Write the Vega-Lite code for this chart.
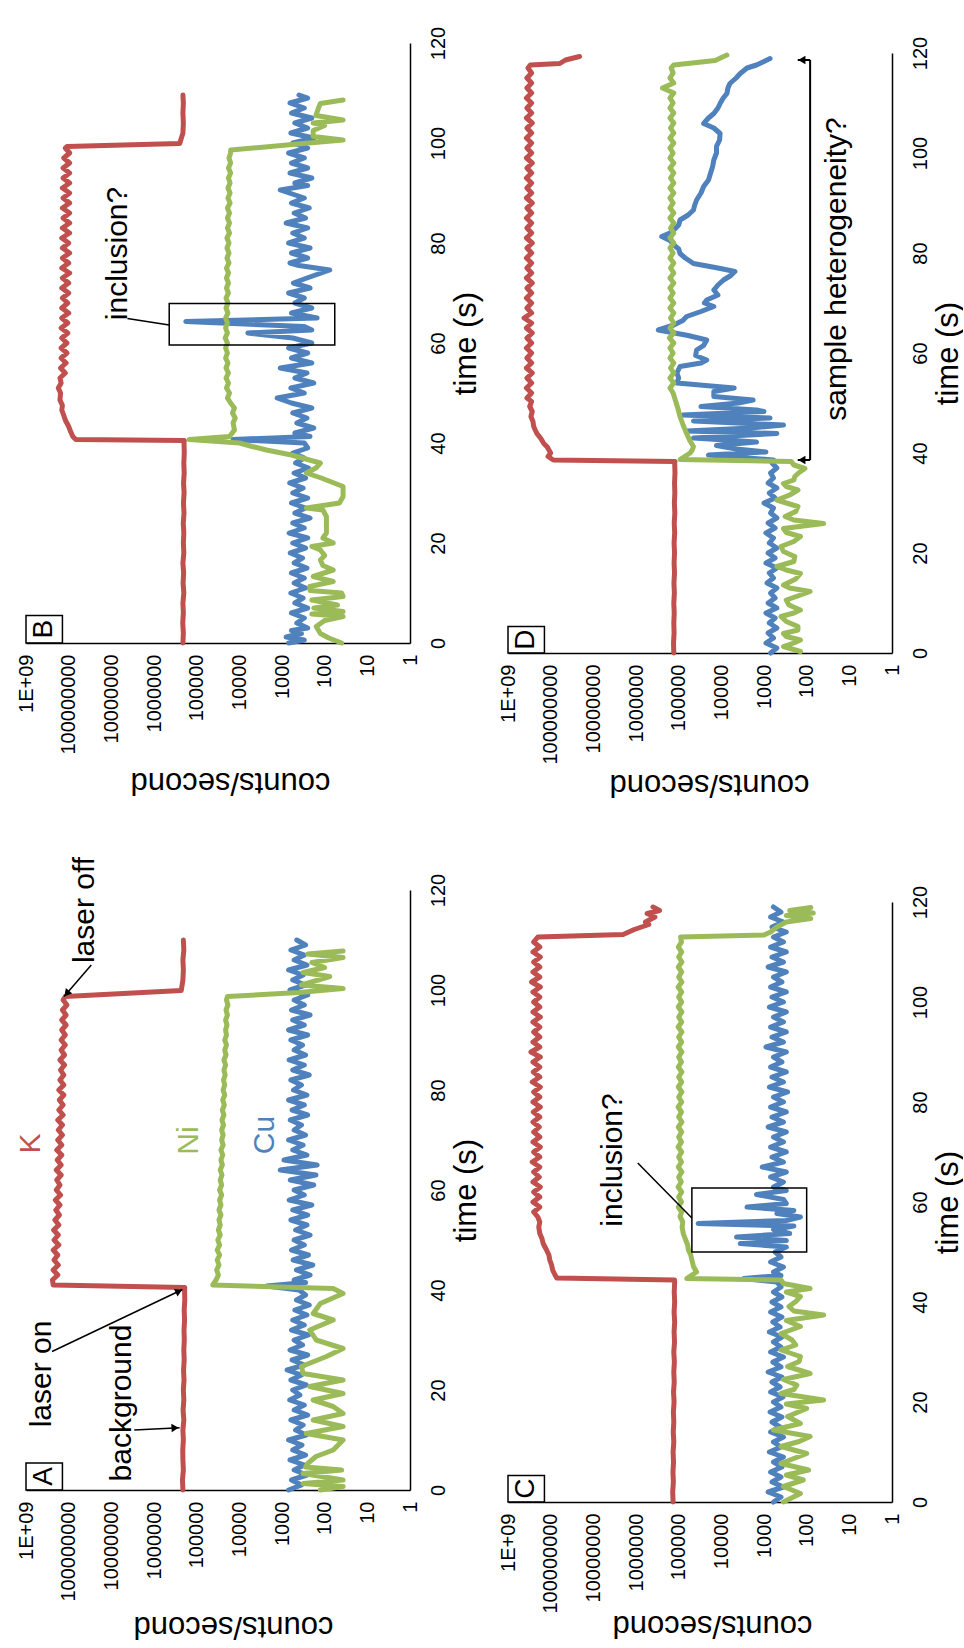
{
"$schema": "https://vega.github.io/schema/vega-lite/v6.json",
"padding": {"left": 16, "top": 26, "right": 0, "bottom": 0},
"background": "white",
"config": {
  "font": "Liberation Sans",
  "view": {"stroke": null},
  "axis": {"grid": false, "ticks": false, "domainColor": "#000000", "domainWidth": 1.5, "labelColor": "#000000", "labelFontSize": 20, "titleColor": "#000000", "titleFontSize": 31, "titleFontWeight": "normal"}
},
"datasets": {
"ts": [
{"p":"A","e":"K","t":0,"v":2.1e5},{"p":"A","e":"K","t":2,"v":2.15e5},{"p":"A","e":"K","t":4,"v":2.05e5},{"p":"A","e":"K","t":6,"v":2.1e5},{"p":"A","e":"K","t":8,"v":2.12e5},{"p":"A","e":"K","t":10,"v":2.05e5},{"p":"A","e":"K","t":12,"v":2.1e5},{"p":"A","e":"K","t":14,"v":2.0e5},{"p":"A","e":"K","t":16,"v":2.08e5},{"p":"A","e":"K","t":18,"v":2.0e5},{"p":"A","e":"K","t":20,"v":2.05e5},{"p":"A","e":"K","t":22,"v":1.98e5},{"p":"A","e":"K","t":24,"v":2.03e5},{"p":"A","e":"K","t":26,"v":1.96e5},{"p":"A","e":"K","t":28,"v":2.0e5},{"p":"A","e":"K","t":30,"v":1.95e5},{"p":"A","e":"K","t":32,"v":1.98e5},{"p":"A","e":"K","t":34,"v":1.92e5},{"p":"A","e":"K","t":36,"v":1.96e5},{"p":"A","e":"K","t":38,"v":1.9e5},{"p":"A","e":"K","t":40,"v":1.92e5},{"p":"A","e":"K","t":40.5,"v":1.9e5},{"p":"A","e":"K","t":41,"v":2.3e8},{"p":"A","e":"K","t":42,"v":2.4e8},{"p":"A","e":"K","t":43,"v":1.8e8},{"p":"A","e":"K","t":44,"v":2.3e8},{"p":"A","e":"K","t":45,"v":1.75e8},{"p":"A","e":"K","t":46,"v":2.2e8},{"p":"A","e":"K","t":47,"v":1.8e8},{"p":"A","e":"K","t":48,"v":2.3e8},{"p":"A","e":"K","t":49,"v":1.7e8},{"p":"A","e":"K","t":50,"v":2.2e8},{"p":"A","e":"K","t":51,"v":1.75e8},{"p":"A","e":"K","t":52,"v":2.25e8},{"p":"A","e":"K","t":53,"v":1.7e8},{"p":"A","e":"K","t":54,"v":2.1e8},{"p":"A","e":"K","t":55,"v":1.65e8},{"p":"A","e":"K","t":56,"v":2.0e8},{"p":"A","e":"K","t":57,"v":1.6e8},{"p":"A","e":"K","t":58,"v":2.05e8},{"p":"A","e":"K","t":59,"v":1.55e8},{"p":"A","e":"K","t":60,"v":1.95e8},{"p":"A","e":"K","t":61,"v":1.6e8},{"p":"A","e":"K","t":62,"v":1.9e8},{"p":"A","e":"K","t":63,"v":1.5e8},{"p":"A","e":"K","t":64,"v":1.95e8},{"p":"A","e":"K","t":65,"v":1.5e8},{"p":"A","e":"K","t":66,"v":1.85e8},{"p":"A","e":"K","t":67,"v":1.45e8},{"p":"A","e":"K","t":68,"v":1.9e8},{"p":"A","e":"K","t":69,"v":1.45e8},{"p":"A","e":"K","t":70,"v":1.8e8},{"p":"A","e":"K","t":71,"v":1.4e8},{"p":"A","e":"K","t":72,"v":1.75e8},{"p":"A","e":"K","t":73,"v":1.4e8},{"p":"A","e":"K","t":74,"v":1.8e8},{"p":"A","e":"K","t":75,"v":1.35e8},{"p":"A","e":"K","t":76,"v":1.7e8},{"p":"A","e":"K","t":77,"v":1.35e8},{"p":"A","e":"K","t":78,"v":1.65e8},{"p":"A","e":"K","t":79,"v":1.3e8},{"p":"A","e":"K","t":80,"v":1.7e8},{"p":"A","e":"K","t":81,"v":1.3e8},{"p":"A","e":"K","t":82,"v":1.6e8},{"p":"A","e":"K","t":83,"v":1.3e8},{"p":"A","e":"K","t":84,"v":1.55e8},{"p":"A","e":"K","t":85,"v":1.25e8},{"p":"A","e":"K","t":86,"v":1.6e8},{"p":"A","e":"K","t":87,"v":1.25e8},{"p":"A","e":"K","t":88,"v":1.5e8},{"p":"A","e":"K","t":89,"v":1.2e8},{"p":"A","e":"K","t":90,"v":1.5e8},{"p":"A","e":"K","t":91,"v":1.2e8},{"p":"A","e":"K","t":92,"v":1.45e8},{"p":"A","e":"K","t":93,"v":1.15e8},{"p":"A","e":"K","t":94,"v":1.45e8},{"p":"A","e":"K","t":95,"v":1.15e8},{"p":"A","e":"K","t":96,"v":1.4e8},{"p":"A","e":"K","t":97,"v":1.1e8},{"p":"A","e":"K","t":98,"v":1.35e8},{"p":"A","e":"K","t":98.7,"v":1.2e8},{"p":"A","e":"K","t":99.9,"v":2.3e5},{"p":"A","e":"K","t":102,"v":2.1e5},{"p":"A","e":"K","t":104,"v":2.05e5},{"p":"A","e":"K","t":106,"v":2.1e5},{"p":"A","e":"K","t":108,"v":2.0e5},{"p":"A","e":"K","t":110,"v":2.05e5},
{"p":"A","e":"Cu","t":0,"v":700},{"p":"A","e":"Cu","t":1,"v":350},{"p":"A","e":"Cu","t":2,"v":600},{"p":"A","e":"Cu","t":3,"v":260},{"p":"A","e":"Cu","t":4,"v":520},{"p":"A","e":"Cu","t":5,"v":300},{"p":"A","e":"Cu","t":6,"v":650},{"p":"A","e":"Cu","t":7,"v":280},{"p":"A","e":"Cu","t":8,"v":560},{"p":"A","e":"Cu","t":9,"v":340},{"p":"A","e":"Cu","t":10,"v":700},{"p":"A","e":"Cu","t":11,"v":270},{"p":"A","e":"Cu","t":12,"v":480},{"p":"A","e":"Cu","t":13,"v":320},{"p":"A","e":"Cu","t":14,"v":620},{"p":"A","e":"Cu","t":15,"v":250},{"p":"A","e":"Cu","t":16,"v":520},{"p":"A","e":"Cu","t":17,"v":300},{"p":"A","e":"Cu","t":18,"v":660},{"p":"A","e":"Cu","t":19,"v":380},{"p":"A","e":"Cu","t":20,"v":560},{"p":"A","e":"Cu","t":21,"v":270},{"p":"A","e":"Cu","t":22,"v":620},{"p":"A","e":"Cu","t":23,"v":350},{"p":"A","e":"Cu","t":24,"v":760},{"p":"A","e":"Cu","t":25,"v":300},{"p":"A","e":"Cu","t":26,"v":580},{"p":"A","e":"Cu","t":27,"v":250},{"p":"A","e":"Cu","t":28,"v":650},{"p":"A","e":"Cu","t":29,"v":330},{"p":"A","e":"Cu","t":30,"v":520},{"p":"A","e":"Cu","t":31,"v":240},{"p":"A","e":"Cu","t":32,"v":600},{"p":"A","e":"Cu","t":33,"v":300},{"p":"A","e":"Cu","t":34,"v":560},{"p":"A","e":"Cu","t":35,"v":260},{"p":"A","e":"Cu","t":36,"v":500},{"p":"A","e":"Cu","t":37,"v":230},{"p":"A","e":"Cu","t":38,"v":460},{"p":"A","e":"Cu","t":39,"v":280},{"p":"A","e":"Cu","t":40,"v":400},{"p":"A","e":"Cu","t":40.8,"v":2300},{"p":"A","e":"Cu","t":41.5,"v":280},{"p":"A","e":"Cu","t":42,"v":520},{"p":"A","e":"Cu","t":43,"v":220},{"p":"A","e":"Cu","t":44,"v":460},{"p":"A","e":"Cu","t":45,"v":190},{"p":"A","e":"Cu","t":46,"v":550},{"p":"A","e":"Cu","t":47,"v":240},{"p":"A","e":"Cu","t":48,"v":600},{"p":"A","e":"Cu","t":49,"v":300},{"p":"A","e":"Cu","t":50,"v":520},{"p":"A","e":"Cu","t":51,"v":220},{"p":"A","e":"Cu","t":52,"v":480},{"p":"A","e":"Cu","t":53,"v":260},{"p":"A","e":"Cu","t":54,"v":620},{"p":"A","e":"Cu","t":55,"v":250},{"p":"A","e":"Cu","t":56,"v":560},{"p":"A","e":"Cu","t":57,"v":200},{"p":"A","e":"Cu","t":58,"v":680},{"p":"A","e":"Cu","t":59,"v":300},{"p":"A","e":"Cu","t":60,"v":520},{"p":"A","e":"Cu","t":61,"v":180},{"p":"A","e":"Cu","t":62,"v":640},{"p":"A","e":"Cu","t":63,"v":160},{"p":"A","e":"Cu","t":64,"v":1100},{"p":"A","e":"Cu","t":65,"v":150},{"p":"A","e":"Cu","t":66,"v":900},{"p":"A","e":"Cu","t":67,"v":260},{"p":"A","e":"Cu","t":68,"v":560},{"p":"A","e":"Cu","t":69,"v":320},{"p":"A","e":"Cu","t":70,"v":700},{"p":"A","e":"Cu","t":71,"v":280},{"p":"A","e":"Cu","t":72,"v":520},{"p":"A","e":"Cu","t":73,"v":350},{"p":"A","e":"Cu","t":74,"v":640},{"p":"A","e":"Cu","t":75,"v":250},{"p":"A","e":"Cu","t":76,"v":580},{"p":"A","e":"Cu","t":77,"v":300},{"p":"A","e":"Cu","t":78,"v":700},{"p":"A","e":"Cu","t":79,"v":260},{"p":"A","e":"Cu","t":80,"v":540},{"p":"A","e":"Cu","t":81,"v":350},{"p":"A","e":"Cu","t":82,"v":620},{"p":"A","e":"Cu","t":83,"v":230},{"p":"A","e":"Cu","t":84,"v":560},{"p":"A","e":"Cu","t":85,"v":300},{"p":"A","e":"Cu","t":86,"v":680},{"p":"A","e":"Cu","t":87,"v":280},{"p":"A","e":"Cu","t":88,"v":520},{"p":"A","e":"Cu","t":89,"v":330},{"p":"A","e":"Cu","t":90,"v":620},{"p":"A","e":"Cu","t":91,"v":250},{"p":"A","e":"Cu","t":92,"v":700},{"p":"A","e":"Cu","t":93,"v":300},{"p":"A","e":"Cu","t":94,"v":560},{"p":"A","e":"Cu","t":95,"v":220},{"p":"A","e":"Cu","t":96,"v":600},{"p":"A","e":"Cu","t":97,"v":300},{"p":"A","e":"Cu","t":98,"v":520},{"p":"A","e":"Cu","t":99,"v":250},{"p":"A","e":"Cu","t":100,"v":650},{"p":"A","e":"Cu","t":101,"v":280},{"p":"A","e":"Cu","t":102,"v":560},{"p":"A","e":"Cu","t":103,"v":320},{"p":"A","e":"Cu","t":104,"v":700},{"p":"A","e":"Cu","t":105,"v":260},{"p":"A","e":"Cu","t":106,"v":520},{"p":"A","e":"Cu","t":107,"v":300},{"p":"A","e":"Cu","t":108,"v":620},{"p":"A","e":"Cu","t":109,"v":280},{"p":"A","e":"Cu","t":110,"v":450},
{"p":"A","e":"Ni","t":0,"v":126},{"p":"A","e":"Ni","t":0.7,"v":37},{"p":"A","e":"Ni","t":1.3,"v":320},{"p":"A","e":"Ni","t":2,"v":37},{"p":"A","e":"Ni","t":3.3,"v":320},{"p":"A","e":"Ni","t":4,"v":40},{"p":"A","e":"Ni","t":4.6,"v":280},{"p":"A","e":"Ni","t":5.3,"v":250},{"p":"A","e":"Ni","t":6.7,"v":160},{"p":"A","e":"Ni","t":8,"v":63},{"p":"A","e":"Ni","t":10,"v":37},{"p":"A","e":"Ni","t":11.3,"v":270},{"p":"A","e":"Ni","t":12.7,"v":37},{"p":"A","e":"Ni","t":14,"v":186},{"p":"A","e":"Ni","t":15.3,"v":37},{"p":"A","e":"Ni","t":16.7,"v":63},{"p":"A","e":"Ni","t":18,"v":186},{"p":"A","e":"Ni","t":19.3,"v":37},{"p":"A","e":"Ni","t":20.7,"v":224},{"p":"A","e":"Ni","t":22,"v":37},{"p":"A","e":"Ni","t":23.3,"v":320},{"p":"A","e":"Ni","t":24.7,"v":350},{"p":"A","e":"Ni","t":26.7,"v":91},{"p":"A","e":"Ni","t":28.3,"v":37},{"p":"A","e":"Ni","t":30,"v":158},{"p":"A","e":"Ni","t":32,"v":224},{"p":"A","e":"Ni","t":34,"v":63},{"p":"A","e":"Ni","t":35.3,"v":186},{"p":"A","e":"Ni","t":37.3,"v":126},{"p":"A","e":"Ni","t":39.3,"v":37},{"p":"A","e":"Ni","t":40.3,"v":63},{"p":"A","e":"Ni","t":41,"v":42000},{"p":"A","e":"Ni","t":42,"v":3.5e4},{"p":"A","e":"Ni","t":43,"v":3.1e4},{"p":"A","e":"Ni","t":44,"v":3.4e4},{"p":"A","e":"Ni","t":45,"v":3.0e4},{"p":"A","e":"Ni","t":46,"v":3.3e4},{"p":"A","e":"Ni","t":47,"v":2.9e4},{"p":"A","e":"Ni","t":48,"v":3.3e4},{"p":"A","e":"Ni","t":49,"v":2.9e4},{"p":"A","e":"Ni","t":50,"v":3.2e4},{"p":"A","e":"Ni","t":51,"v":2.8e4},{"p":"A","e":"Ni","t":52,"v":3.1e4},{"p":"A","e":"Ni","t":53,"v":2.8e4},{"p":"A","e":"Ni","t":54,"v":3.0e4},{"p":"A","e":"Ni","t":55,"v":2.7e4},{"p":"A","e":"Ni","t":56,"v":3.0e4},{"p":"A","e":"Ni","t":57,"v":2.7e4},{"p":"A","e":"Ni","t":58,"v":2.9e4},{"p":"A","e":"Ni","t":59,"v":2.6e4},{"p":"A","e":"Ni","t":60,"v":2.9e4},{"p":"A","e":"Ni","t":61,"v":2.6e4},{"p":"A","e":"Ni","t":62,"v":2.8e4},{"p":"A","e":"Ni","t":63,"v":2.55e4},{"p":"A","e":"Ni","t":64,"v":2.8e4},{"p":"A","e":"Ni","t":65,"v":2.5e4},{"p":"A","e":"Ni","t":66,"v":2.7e4},{"p":"A","e":"Ni","t":67,"v":2.45e4},{"p":"A","e":"Ni","t":68,"v":2.7e4},{"p":"A","e":"Ni","t":69,"v":2.4e4},{"p":"A","e":"Ni","t":70,"v":2.6e4},{"p":"A","e":"Ni","t":71,"v":2.4e4},{"p":"A","e":"Ni","t":72,"v":2.6e4},{"p":"A","e":"Ni","t":73,"v":2.35e4},{"p":"A","e":"Ni","t":74,"v":2.55e4},{"p":"A","e":"Ni","t":75,"v":2.3e4},{"p":"A","e":"Ni","t":76,"v":2.5e4},{"p":"A","e":"Ni","t":77,"v":2.25e4},{"p":"A","e":"Ni","t":78,"v":2.45e4},{"p":"A","e":"Ni","t":79,"v":2.2e4},{"p":"A","e":"Ni","t":80,"v":2.4e4},{"p":"A","e":"Ni","t":81,"v":2.2e4},{"p":"A","e":"Ni","t":82,"v":2.35e4},{"p":"A","e":"Ni","t":83,"v":2.15e4},{"p":"A","e":"Ni","t":84,"v":2.3e4},{"p":"A","e":"Ni","t":85,"v":2.1e4},{"p":"A","e":"Ni","t":86,"v":2.3e4},{"p":"A","e":"Ni","t":87,"v":2.05e4},{"p":"A","e":"Ni","t":88,"v":2.2e4},{"p":"A","e":"Ni","t":89,"v":2.0e4},{"p":"A","e":"Ni","t":90,"v":2.2e4},{"p":"A","e":"Ni","t":91,"v":2.0e4},{"p":"A","e":"Ni","t":92,"v":2.1e4},{"p":"A","e":"Ni","t":93,"v":1.95e4},{"p":"A","e":"Ni","t":94,"v":2.1e4},{"p":"A","e":"Ni","t":95,"v":1.9e4},{"p":"A","e":"Ni","t":96,"v":2.05e4},{"p":"A","e":"Ni","t":97,"v":1.85e4},{"p":"A","e":"Ni","t":98,"v":2.0e4},{"p":"A","e":"Ni","t":98.7,"v":1.9e4},{"p":"A","e":"Ni","t":99.5,"v":400},{"p":"A","e":"Ni","t":100.3,"v":37},{"p":"A","e":"Ni","t":101,"v":350},{"p":"A","e":"Ni","t":101.7,"v":186},{"p":"A","e":"Ni","t":102.7,"v":76},{"p":"A","e":"Ni","t":103.5,"v":320},{"p":"A","e":"Ni","t":104.5,"v":100},{"p":"A","e":"Ni","t":105.5,"v":200},{"p":"A","e":"Ni","t":106.5,"v":37},{"p":"A","e":"Ni","t":107.2,"v":250},{"p":"A","e":"Ni","t":107.8,"v":37},
{"p":"B","e":"K","t":0,"v":2.1e5},{"p":"B","e":"K","t":2,"v":2.05e5},{"p":"B","e":"K","t":4,"v":2.12e5},{"p":"B","e":"K","t":6,"v":2.05e5},{"p":"B","e":"K","t":8,"v":2.1e5},{"p":"B","e":"K","t":10,"v":2.0e5},{"p":"B","e":"K","t":12,"v":2.08e5},{"p":"B","e":"K","t":14,"v":2.02e5},{"p":"B","e":"K","t":16,"v":2.1e5},{"p":"B","e":"K","t":18,"v":2.0e5},{"p":"B","e":"K","t":20,"v":2.05e5},{"p":"B","e":"K","t":22,"v":2.0e5},{"p":"B","e":"K","t":24,"v":2.06e5},{"p":"B","e":"K","t":26,"v":1.98e5},{"p":"B","e":"K","t":28,"v":2.04e5},{"p":"B","e":"K","t":30,"v":1.97e5},{"p":"B","e":"K","t":32,"v":2.03e5},{"p":"B","e":"K","t":34,"v":1.96e5},{"p":"B","e":"K","t":36,"v":2.0e5},{"p":"B","e":"K","t":38,"v":1.95e5},{"p":"B","e":"K","t":40,"v":1.98e5},{"p":"B","e":"K","t":40.5,"v":1.95e5},{"p":"B","e":"K","t":40.7,"v":6.8e7},{"p":"B","e":"K","t":41.3,"v":8e7},{"p":"B","e":"K","t":42.3,"v":9e7},{"p":"B","e":"K","t":43.3,"v":1e8},{"p":"B","e":"K","t":44.6,"v":1.2e8},{"p":"B","e":"K","t":45.5,"v":1.3e8},{"p":"B","e":"K","t":46.6,"v":1.45e8},{"p":"B","e":"K","t":47.5,"v":1.4e8},{"p":"B","e":"K","t":48.6,"v":1.6e8},{"p":"B","e":"K","t":50,"v":1.55e8},{"p":"B","e":"K","t":51,"v":1.75e8},{"p":"B","e":"K","t":52,"v":1.5e8},{"p":"B","e":"K","t":53,"v":1.6e8},{"p":"B","e":"K","t":54,"v":1.2e8},{"p":"B","e":"K","t":55,"v":1.55e8},{"p":"B","e":"K","t":56,"v":1.15e8},{"p":"B","e":"K","t":57,"v":1.5e8},{"p":"B","e":"K","t":58,"v":1.1e8},{"p":"B","e":"K","t":59,"v":1.5e8},{"p":"B","e":"K","t":60,"v":1.1e8},{"p":"B","e":"K","t":61,"v":1.45e8},{"p":"B","e":"K","t":62,"v":1.05e8},{"p":"B","e":"K","t":63,"v":1.5e8},{"p":"B","e":"K","t":64,"v":1.05e8},{"p":"B","e":"K","t":65,"v":1.45e8},{"p":"B","e":"K","t":66,"v":1e8},{"p":"B","e":"K","t":67,"v":1.45e8},{"p":"B","e":"K","t":68,"v":1.05e8},{"p":"B","e":"K","t":69,"v":1.4e8},{"p":"B","e":"K","t":70,"v":1e8},{"p":"B","e":"K","t":71,"v":1.45e8},{"p":"B","e":"K","t":72,"v":1e8},{"p":"B","e":"K","t":73,"v":1.4e8},{"p":"B","e":"K","t":74,"v":9.5e7},{"p":"B","e":"K","t":75,"v":1.45e8},{"p":"B","e":"K","t":76,"v":1e8},{"p":"B","e":"K","t":77,"v":1.4e8},{"p":"B","e":"K","t":78,"v":9.5e7},{"p":"B","e":"K","t":79,"v":1.4e8},{"p":"B","e":"K","t":80,"v":1e8},{"p":"B","e":"K","t":81,"v":1.45e8},{"p":"B","e":"K","t":82,"v":9.5e7},{"p":"B","e":"K","t":83,"v":1.4e8},{"p":"B","e":"K","t":84,"v":9.5e7},{"p":"B","e":"K","t":85,"v":1.35e8},{"p":"B","e":"K","t":86,"v":9.5e7},{"p":"B","e":"K","t":87,"v":1.4e8},{"p":"B","e":"K","t":88,"v":9.5e7},{"p":"B","e":"K","t":89,"v":1.35e8},{"p":"B","e":"K","t":90,"v":9.5e7},{"p":"B","e":"K","t":91,"v":1.4e8},{"p":"B","e":"K","t":92,"v":9.5e7},{"p":"B","e":"K","t":93,"v":1.35e8},{"p":"B","e":"K","t":94,"v":9.5e7},{"p":"B","e":"K","t":95,"v":1.35e8},{"p":"B","e":"K","t":96,"v":9.5e7},{"p":"B","e":"K","t":97,"v":1.3e8},{"p":"B","e":"K","t":98,"v":9.5e7},{"p":"B","e":"K","t":99,"v":1.2e8},{"p":"B","e":"K","t":99.3,"v":1.1e8},{"p":"B","e":"K","t":99.9,"v":2.5e5},{"p":"B","e":"K","t":102,"v":2.1e5},{"p":"B","e":"K","t":104,"v":2.05e5},{"p":"B","e":"K","t":106,"v":2.1e5},{"p":"B","e":"K","t":108,"v":2.05e5},{"p":"B","e":"K","t":109.6,"v":2.1e5},
{"p":"B","e":"Cu","t":0,"v":700},{"p":"B","e":"Cu","t":0.6,"v":300},{"p":"B","e":"Cu","t":1.2,"v":800},{"p":"B","e":"Cu","t":1.9,"v":350},{"p":"B","e":"Cu","t":2.5,"v":600},{"p":"B","e":"Cu","t":3,"v":250},{"p":"B","e":"Cu","t":4,"v":450},{"p":"B","e":"Cu","t":5,"v":300},{"p":"B","e":"Cu","t":6,"v":600},{"p":"B","e":"Cu","t":7,"v":250},{"p":"B","e":"Cu","t":8,"v":500},{"p":"B","e":"Cu","t":9,"v":320},{"p":"B","e":"Cu","t":10,"v":620},{"p":"B","e":"Cu","t":11,"v":280},{"p":"B","e":"Cu","t":12,"v":520},{"p":"B","e":"Cu","t":13,"v":300},{"p":"B","e":"Cu","t":14,"v":600},{"p":"B","e":"Cu","t":15,"v":260},{"p":"B","e":"Cu","t":16,"v":520},{"p":"B","e":"Cu","t":17,"v":330},{"p":"B","e":"Cu","t":18,"v":640},{"p":"B","e":"Cu","t":19,"v":280},{"p":"B","e":"Cu","t":20,"v":560},{"p":"B","e":"Cu","t":21,"v":250},{"p":"B","e":"Cu","t":22,"v":680},{"p":"B","e":"Cu","t":23,"v":300},{"p":"B","e":"Cu","t":24,"v":560},{"p":"B","e":"Cu","t":25,"v":220},{"p":"B","e":"Cu","t":26,"v":500},{"p":"B","e":"Cu","t":27,"v":280},{"p":"B","e":"Cu","t":28,"v":600},{"p":"B","e":"Cu","t":29,"v":250},{"p":"B","e":"Cu","t":30,"v":560},{"p":"B","e":"Cu","t":31,"v":320},{"p":"B","e":"Cu","t":32,"v":660},{"p":"B","e":"Cu","t":33,"v":280},{"p":"B","e":"Cu","t":34,"v":520},{"p":"B","e":"Cu","t":35,"v":240},{"p":"B","e":"Cu","t":36,"v":480},{"p":"B","e":"Cu","t":37,"v":300},{"p":"B","e":"Cu","t":38,"v":560},{"p":"B","e":"Cu","t":39,"v":250},{"p":"B","e":"Cu","t":40,"v":300},{"p":"B","e":"Cu","t":40.7,"v":14000},{"p":"B","e":"Cu","t":41.3,"v":220},{"p":"B","e":"Cu","t":42,"v":500},{"p":"B","e":"Cu","t":43,"v":180},{"p":"B","e":"Cu","t":44,"v":450},{"p":"B","e":"Cu","t":45,"v":260},{"p":"B","e":"Cu","t":46,"v":560},{"p":"B","e":"Cu","t":47,"v":200},{"p":"B","e":"Cu","t":48,"v":600},{"p":"B","e":"Cu","t":49,"v":1300},{"p":"B","e":"Cu","t":50,"v":300},{"p":"B","e":"Cu","t":51,"v":620},{"p":"B","e":"Cu","t":52,"v":180},{"p":"B","e":"Cu","t":53,"v":500},{"p":"B","e":"Cu","t":54,"v":260},{"p":"B","e":"Cu","t":55,"v":1100},{"p":"B","e":"Cu","t":56,"v":200},{"p":"B","e":"Cu","t":57,"v":600},{"p":"B","e":"Cu","t":58,"v":250},{"p":"B","e":"Cu","t":59,"v":700},{"p":"B","e":"Cu","t":60,"v":200},{"p":"B","e":"Cu","t":61,"v":560},{"p":"B","e":"Cu","t":62,"v":6300},{"p":"B","e":"Cu","t":62.6,"v":200},{"p":"B","e":"Cu","t":63.3,"v":300},{"p":"B","e":"Cu","t":64.3,"v":180000},{"p":"B","e":"Cu","t":65,"v":150},{"p":"B","e":"Cu","t":66,"v":600},{"p":"B","e":"Cu","t":67,"v":200},{"p":"B","e":"Cu","t":68,"v":500},{"p":"B","e":"Cu","t":69,"v":300},{"p":"B","e":"Cu","t":70,"v":700},{"p":"B","e":"Cu","t":71,"v":220},{"p":"B","e":"Cu","t":72,"v":540},{"p":"B","e":"Cu","t":73,"v":260},{"p":"B","e":"Cu","t":74.6,"v":76},{"p":"B","e":"Cu","t":75.5,"v":400},{"p":"B","e":"Cu","t":76,"v":650},{"p":"B","e":"Cu","t":77,"v":250},{"p":"B","e":"Cu","t":78,"v":600},{"p":"B","e":"Cu","t":79,"v":220},{"p":"B","e":"Cu","t":80,"v":700},{"p":"B","e":"Cu","t":81,"v":300},{"p":"B","e":"Cu","t":82,"v":560},{"p":"B","e":"Cu","t":83,"v":250},{"p":"B","e":"Cu","t":84,"v":800},{"p":"B","e":"Cu","t":85,"v":280},{"p":"B","e":"Cu","t":86,"v":520},{"p":"B","e":"Cu","t":87,"v":230},{"p":"B","e":"Cu","t":88,"v":600},{"p":"B","e":"Cu","t":89,"v":300},{"p":"B","e":"Cu","t":90.6,"v":1100},{"p":"B","e":"Cu","t":91.5,"v":250},{"p":"B","e":"Cu","t":92,"v":500},{"p":"B","e":"Cu","t":93,"v":200},{"p":"B","e":"Cu","t":94,"v":650},{"p":"B","e":"Cu","t":95,"v":250},{"p":"B","e":"Cu","t":96,"v":600},{"p":"B","e":"Cu","t":97,"v":300},{"p":"B","e":"Cu","t":98,"v":700},{"p":"B","e":"Cu","t":99,"v":250},{"p":"B","e":"Cu","t":100,"v":560},{"p":"B","e":"Cu","t":101,"v":180},{"p":"B","e":"Cu","t":102,"v":620},{"p":"B","e":"Cu","t":103,"v":250},{"p":"B","e":"Cu","t":104,"v":500},{"p":"B","e":"Cu","t":105,"v":200},{"p":"B","e":"Cu","t":106,"v":600},{"p":"B","e":"Cu","t":107,"v":300},{"p":"B","e":"Cu","t":108,"v":650},{"p":"B","e":"Cu","t":109,"v":250},{"p":"B","e":"Cu","t":109.6,"v":400},
{"p":"B","e":"Ni","t":0,"v":40},{"p":"B","e":"Ni","t":1,"v":80},{"p":"B","e":"Ni","t":1.9,"v":126},{"p":"B","e":"Ni","t":3.3,"v":158},{"p":"B","e":"Ni","t":4.5,"v":100},{"p":"B","e":"Ni","t":5.3,"v":37},{"p":"B","e":"Ni","t":5.8,"v":200},{"p":"B","e":"Ni","t":6.3,"v":37},{"p":"B","e":"Ni","t":7,"v":180},{"p":"B","e":"Ni","t":7.6,"v":50},{"p":"B","e":"Ni","t":8.6,"v":200},{"p":"B","e":"Ni","t":9.3,"v":37},{"p":"B","e":"Ni","t":10,"v":40},{"p":"B","e":"Ni","t":10.5,"v":220},{"p":"B","e":"Ni","t":11.3,"v":224},{"p":"B","e":"Ni","t":12.3,"v":63},{"p":"B","e":"Ni","t":13.3,"v":186},{"p":"B","e":"Ni","t":14.6,"v":63},{"p":"B","e":"Ni","t":15.5,"v":110},{"p":"B","e":"Ni","t":16.6,"v":126},{"p":"B","e":"Ni","t":17.5,"v":100},{"p":"B","e":"Ni","t":18.6,"v":126},{"p":"B","e":"Ni","t":19.3,"v":200},{"p":"B","e":"Ni","t":20,"v":63},{"p":"B","e":"Ni","t":21,"v":110},{"p":"B","e":"Ni","t":22,"v":91},{"p":"B","e":"Ni","t":23.3,"v":91},{"p":"B","e":"Ni","t":25.3,"v":91},{"p":"B","e":"Ni","t":26.6,"v":110},{"p":"B","e":"Ni","t":27,"v":269},{"p":"B","e":"Ni","t":27.5,"v":110},{"p":"B","e":"Ni","t":28,"v":45},{"p":"B","e":"Ni","t":29.3,"v":37},{"p":"B","e":"Ni","t":31.3,"v":37},{"p":"B","e":"Ni","t":33,"v":120},{"p":"B","e":"Ni","t":34,"v":269},{"p":"B","e":"Ni","t":35,"v":160},{"p":"B","e":"Ni","t":36,"v":126},{"p":"B","e":"Ni","t":36.6,"v":230},{"p":"B","e":"Ni","t":37.6,"v":600},{"p":"B","e":"Ni","t":38.6,"v":2300},{"p":"B","e":"Ni","t":39.3,"v":5000},{"p":"B","e":"Ni","t":40,"v":9800},{"p":"B","e":"Ni","t":40.7,"v":150000},{"p":"B","e":"Ni","t":41.3,"v":17000},{"p":"B","e":"Ni","t":42.6,"v":13000},{"p":"B","e":"Ni","t":44,"v":1.4e4},{"p":"B","e":"Ni","t":45,"v":1.25e4},{"p":"B","e":"Ni","t":46,"v":1.45e4},{"p":"B","e":"Ni","t":47,"v":1.3e4},{"p":"B","e":"Ni","t":48,"v":1.6e4},{"p":"B","e":"Ni","t":49,"v":1.9e4},{"p":"B","e":"Ni","t":50,"v":1.7e4},{"p":"B","e":"Ni","t":51,"v":2.0e4},{"p":"B","e":"Ni","t":52,"v":1.8e4},{"p":"B","e":"Ni","t":53,"v":2.05e4},{"p":"B","e":"Ni","t":54,"v":1.8e4},{"p":"B","e":"Ni","t":55,"v":2.05e4},{"p":"B","e":"Ni","t":56,"v":1.85e4},{"p":"B","e":"Ni","t":57,"v":2.1e4},{"p":"B","e":"Ni","t":58,"v":1.9e4},{"p":"B","e":"Ni","t":59,"v":2.1e4},{"p":"B","e":"Ni","t":60,"v":1.9e4},{"p":"B","e":"Ni","t":61,"v":2.15e4},{"p":"B","e":"Ni","t":62,"v":1.9e4},{"p":"B","e":"Ni","t":63,"v":2.1e4},{"p":"B","e":"Ni","t":64,"v":1.9e4},{"p":"B","e":"Ni","t":65,"v":2.1e4},{"p":"B","e":"Ni","t":66,"v":1.85e4},{"p":"B","e":"Ni","t":67,"v":2.05e4},{"p":"B","e":"Ni","t":68,"v":1.85e4},{"p":"B","e":"Ni","t":69,"v":2.05e4},{"p":"B","e":"Ni","t":70,"v":1.8e4},{"p":"B","e":"Ni","t":71,"v":2.0e4},{"p":"B","e":"Ni","t":72,"v":1.8e4},{"p":"B","e":"Ni","t":73,"v":2.0e4},{"p":"B","e":"Ni","t":74,"v":1.8e4},{"p":"B","e":"Ni","t":75,"v":2.0e4},{"p":"B","e":"Ni","t":76,"v":1.75e4},{"p":"B","e":"Ni","t":77,"v":1.95e4},{"p":"B","e":"Ni","t":78,"v":1.75e4},{"p":"B","e":"Ni","t":79,"v":1.95e4},{"p":"B","e":"Ni","t":80,"v":1.75e4},{"p":"B","e":"Ni","t":81,"v":1.95e4},{"p":"B","e":"Ni","t":82,"v":1.7e4},{"p":"B","e":"Ni","t":83,"v":1.9e4},{"p":"B","e":"Ni","t":84,"v":1.7e4},{"p":"B","e":"Ni","t":85,"v":1.9e4},{"p":"B","e":"Ni","t":86,"v":1.7e4},{"p":"B","e":"Ni","t":87,"v":1.9e4},{"p":"B","e":"Ni","t":88,"v":1.65e4},{"p":"B","e":"Ni","t":89,"v":1.85e4},{"p":"B","e":"Ni","t":90,"v":1.65e4},{"p":"B","e":"Ni","t":91,"v":1.85e4},{"p":"B","e":"Ni","t":92,"v":1.65e4},{"p":"B","e":"Ni","t":93,"v":1.8e4},{"p":"B","e":"Ni","t":94,"v":1.6e4},{"p":"B","e":"Ni","t":95,"v":1.8e4},{"p":"B","e":"Ni","t":96,"v":1.6e4},{"p":"B","e":"Ni","t":97,"v":1.75e4},{"p":"B","e":"Ni","t":98,"v":1.6e4},{"p":"B","e":"Ni","t":98.6,"v":1.6e4},{"p":"B","e":"Ni","t":99.9,"v":320},{"p":"B","e":"Ni","t":100.6,"v":37},{"p":"B","e":"Ni","t":101.3,"v":186},{"p":"B","e":"Ni","t":102.5,"v":186},{"p":"B","e":"Ni","t":103.5,"v":100},{"p":"B","e":"Ni","t":104,"v":186},{"p":"B","e":"Ni","t":104.6,"v":37},{"p":"B","e":"Ni","t":105.5,"v":160},{"p":"B","e":"Ni","t":107,"v":140},{"p":"B","e":"Ni","t":107.9,"v":126},{"p":"B","e":"Ni","t":108.6,"v":37},
{"p":"C","e":"K","t":0,"v":1.35e5},{"p":"C","e":"K","t":2,"v":1.38e5},{"p":"C","e":"K","t":4,"v":1.33e5},{"p":"C","e":"K","t":6,"v":1.36e5},{"p":"C","e":"K","t":8,"v":1.32e5},{"p":"C","e":"K","t":10,"v":1.35e5},{"p":"C","e":"K","t":12,"v":1.3e5},{"p":"C","e":"K","t":14,"v":1.34e5},{"p":"C","e":"K","t":16,"v":1.3e5},{"p":"C","e":"K","t":18,"v":1.33e5},{"p":"C","e":"K","t":20,"v":1.28e5},{"p":"C","e":"K","t":22,"v":1.32e5},{"p":"C","e":"K","t":24,"v":1.27e5},{"p":"C","e":"K","t":26,"v":1.3e5},{"p":"C","e":"K","t":28,"v":1.26e5},{"p":"C","e":"K","t":30,"v":1.3e5},{"p":"C","e":"K","t":32,"v":1.25e5},{"p":"C","e":"K","t":34,"v":1.28e5},{"p":"C","e":"K","t":36,"v":1.24e5},{"p":"C","e":"K","t":38,"v":1.28e5},{"p":"C","e":"K","t":40,"v":1.24e5},{"p":"C","e":"K","t":42,"v":1.27e5},{"p":"C","e":"K","t":44,"v":1.24e5},{"p":"C","e":"K","t":44.4,"v":1.25e5},{"p":"C","e":"K","t":44.8,"v":7.2e7},{"p":"C","e":"K","t":45.5,"v":8.0e7},{"p":"C","e":"K","t":46.4,"v":9.0e7},{"p":"C","e":"K","t":47.4,"v":9.5e7},{"p":"C","e":"K","t":48.4,"v":1.05e8},{"p":"C","e":"K","t":49.4,"v":1.1e8},{"p":"C","e":"K","t":50.4,"v":1.25e8},{"p":"C","e":"K","t":51.7,"v":1.5e8},{"p":"C","e":"K","t":52.7,"v":1.6e8},{"p":"C","e":"K","t":53.7,"v":1.8e8},{"p":"C","e":"K","t":55,"v":1.9e8},{"p":"C","e":"K","t":56,"v":1.8e8},{"p":"C","e":"K","t":57,"v":2.0e8},{"p":"C","e":"K","t":58,"v":2.5e8},{"p":"C","e":"K","t":59,"v":1.8e8},{"p":"C","e":"K","t":60,"v":2.6e8},{"p":"C","e":"K","t":61,"v":1.8e8},{"p":"C","e":"K","t":62,"v":2.5e8},{"p":"C","e":"K","t":63,"v":1.75e8},{"p":"C","e":"K","t":64,"v":2.6e8},{"p":"C","e":"K","t":65,"v":1.85e8},{"p":"C","e":"K","t":66,"v":2.5e8},{"p":"C","e":"K","t":67,"v":1.8e8},{"p":"C","e":"K","t":68,"v":2.7e8},{"p":"C","e":"K","t":69,"v":1.8e8},{"p":"C","e":"K","t":70,"v":2.5e8},{"p":"C","e":"K","t":71,"v":1.75e8},{"p":"C","e":"K","t":72,"v":2.6e8},{"p":"C","e":"K","t":73,"v":1.8e8},{"p":"C","e":"K","t":74,"v":2.5e8},{"p":"C","e":"K","t":75,"v":1.85e8},{"p":"C","e":"K","t":76,"v":2.6e8},{"p":"C","e":"K","t":77,"v":1.8e8},{"p":"C","e":"K","t":78,"v":2.55e8},{"p":"C","e":"K","t":79,"v":1.75e8},{"p":"C","e":"K","t":80,"v":2.6e8},{"p":"C","e":"K","t":81,"v":1.8e8},{"p":"C","e":"K","t":82,"v":2.5e8},{"p":"C","e":"K","t":83,"v":1.75e8},{"p":"C","e":"K","t":84,"v":2.7e8},{"p":"C","e":"K","t":85,"v":1.8e8},{"p":"C","e":"K","t":86,"v":2.55e8},{"p":"C","e":"K","t":87,"v":1.8e8},{"p":"C","e":"K","t":88,"v":2.6e8},{"p":"C","e":"K","t":89,"v":1.75e8},{"p":"C","e":"K","t":90,"v":2.9e8},{"p":"C","e":"K","t":91,"v":1.8e8},{"p":"C","e":"K","t":92,"v":2.6e8},{"p":"C","e":"K","t":93,"v":1.8e8},{"p":"C","e":"K","t":94,"v":2.5e8},{"p":"C","e":"K","t":95,"v":1.8e8},{"p":"C","e":"K","t":96,"v":2.6e8},{"p":"C","e":"K","t":97,"v":1.75e8},{"p":"C","e":"K","t":98,"v":2.6e8},{"p":"C","e":"K","t":99,"v":1.8e8},{"p":"C","e":"K","t":100,"v":2.5e8},{"p":"C","e":"K","t":101,"v":1.8e8},{"p":"C","e":"K","t":102,"v":2.6e8},{"p":"C","e":"K","t":103,"v":1.75e8},{"p":"C","e":"K","t":104,"v":2.8e8},{"p":"C","e":"K","t":105,"v":1.8e8},{"p":"C","e":"K","t":106,"v":2.6e8},{"p":"C","e":"K","t":107,"v":1.8e8},{"p":"C","e":"K","t":108,"v":2.5e8},{"p":"C","e":"K","t":109,"v":1.75e8},{"p":"C","e":"K","t":110,"v":2.6e8},{"p":"C","e":"K","t":111,"v":1.8e8},{"p":"C","e":"K","t":112,"v":2.5e8},{"p":"C","e":"K","t":113,"v":2.0e8},{"p":"C","e":"K","t":113.5,"v":2.0e6},{"p":"C","e":"K","t":114.5,"v":1.1e6},{"p":"C","e":"K","t":115.5,"v":5.0e5},{"p":"C","e":"K","t":116,"v":6.0e5},{"p":"C","e":"K","t":117,"v":3.6e5},{"p":"C","e":"K","t":117.7,"v":5.5e5},{"p":"C","e":"K","t":118.3,"v":2.8e5},{"p":"C","e":"K","t":119,"v":4.0e5},
{"p":"C","e":"Cu","t":0,"v":600},{"p":"C","e":"Cu","t":1,"v":400},{"p":"C","e":"Cu","t":2,"v":800},{"p":"C","e":"Cu","t":3,"v":350},{"p":"C","e":"Cu","t":4,"v":650},{"p":"C","e":"Cu","t":5,"v":400},{"p":"C","e":"Cu","t":6,"v":700},{"p":"C","e":"Cu","t":7,"v":380},{"p":"C","e":"Cu","t":8,"v":600},{"p":"C","e":"Cu","t":9,"v":350},{"p":"C","e":"Cu","t":10,"v":750},{"p":"C","e":"Cu","t":11,"v":400},{"p":"C","e":"Cu","t":12,"v":600},{"p":"C","e":"Cu","t":13,"v":350},{"p":"C","e":"Cu","t":14,"v":700},{"p":"C","e":"Cu","t":15,"v":420},{"p":"C","e":"Cu","t":16,"v":650},{"p":"C","e":"Cu","t":17,"v":380},{"p":"C","e":"Cu","t":18,"v":720},{"p":"C","e":"Cu","t":19,"v":400},{"p":"C","e":"Cu","t":20,"v":600},{"p":"C","e":"Cu","t":21,"v":360},{"p":"C","e":"Cu","t":22,"v":700},{"p":"C","e":"Cu","t":23,"v":420},{"p":"C","e":"Cu","t":24,"v":650},{"p":"C","e":"Cu","t":25,"v":380},{"p":"C","e":"Cu","t":26,"v":800},{"p":"C","e":"Cu","t":27,"v":400},{"p":"C","e":"Cu","t":28,"v":620},{"p":"C","e":"Cu","t":29,"v":350},{"p":"C","e":"Cu","t":30,"v":700},{"p":"C","e":"Cu","t":31,"v":400},{"p":"C","e":"Cu","t":32,"v":600},{"p":"C","e":"Cu","t":33,"v":380},{"p":"C","e":"Cu","t":34,"v":750},{"p":"C","e":"Cu","t":35,"v":420},{"p":"C","e":"Cu","t":36,"v":620},{"p":"C","e":"Cu","t":37,"v":380},{"p":"C","e":"Cu","t":38,"v":700},{"p":"C","e":"Cu","t":39,"v":400},{"p":"C","e":"Cu","t":40,"v":650},{"p":"C","e":"Cu","t":41,"v":380},{"p":"C","e":"Cu","t":42,"v":600},{"p":"C","e":"Cu","t":43,"v":400},{"p":"C","e":"Cu","t":44,"v":500},{"p":"C","e":"Cu","t":44.7,"v":3000},{"p":"C","e":"Cu","t":45.3,"v":400},{"p":"C","e":"Cu","t":46,"v":600},{"p":"C","e":"Cu","t":47,"v":350},{"p":"C","e":"Cu","t":48,"v":700},{"p":"C","e":"Cu","t":49,"v":400},{"p":"C","e":"Cu","t":50,"v":550},{"p":"C","e":"Cu","t":51,"v":300},{"p":"C","e":"Cu","t":51.7,"v":3600},{"p":"C","e":"Cu","t":52.3,"v":300},{"p":"C","e":"Cu","t":53,"v":4400},{"p":"C","e":"Cu","t":53.7,"v":250},{"p":"C","e":"Cu","t":54.5,"v":600},{"p":"C","e":"Cu","t":55.2,"v":200},{"p":"C","e":"Cu","t":55.7,"v":35000},{"p":"C","e":"Cu","t":56.3,"v":300},{"p":"C","e":"Cu","t":57,"v":140},{"p":"C","e":"Cu","t":57.7,"v":500},{"p":"C","e":"Cu","t":58.3,"v":200},{"p":"C","e":"Cu","t":59,"v":2500},{"p":"C","e":"Cu","t":59.7,"v":300},{"p":"C","e":"Cu","t":60.5,"v":350},{"p":"C","e":"Cu","t":61.5,"v":1500},{"p":"C","e":"Cu","t":62.3,"v":300},{"p":"C","e":"Cu","t":63,"v":600},{"p":"C","e":"Cu","t":64,"v":350},{"p":"C","e":"Cu","t":65,"v":700},{"p":"C","e":"Cu","t":66,"v":300},{"p":"C","e":"Cu","t":67,"v":1100},{"p":"C","e":"Cu","t":68,"v":350},{"p":"C","e":"Cu","t":69,"v":650},{"p":"C","e":"Cu","t":70,"v":300},{"p":"C","e":"Cu","t":71,"v":700},{"p":"C","e":"Cu","t":72,"v":350},{"p":"C","e":"Cu","t":73,"v":600},{"p":"C","e":"Cu","t":74,"v":300},{"p":"C","e":"Cu","t":75,"v":800},{"p":"C","e":"Cu","t":76,"v":350},{"p":"C","e":"Cu","t":77,"v":650},{"p":"C","e":"Cu","t":78,"v":300},{"p":"C","e":"Cu","t":79,"v":700},{"p":"C","e":"Cu","t":80,"v":350},{"p":"C","e":"Cu","t":81,"v":600},{"p":"C","e":"Cu","t":82,"v":280},{"p":"C","e":"Cu","t":83,"v":750},{"p":"C","e":"Cu","t":84,"v":350},{"p":"C","e":"Cu","t":85,"v":650},{"p":"C","e":"Cu","t":86,"v":300},{"p":"C","e":"Cu","t":87,"v":700},{"p":"C","e":"Cu","t":88,"v":380},{"p":"C","e":"Cu","t":89,"v":600},{"p":"C","e":"Cu","t":90,"v":300},{"p":"C","e":"Cu","t":91,"v":900},{"p":"C","e":"Cu","t":92,"v":350},{"p":"C","e":"Cu","t":93,"v":650},{"p":"C","e":"Cu","t":94,"v":300},{"p":"C","e":"Cu","t":95,"v":700},{"p":"C","e":"Cu","t":96,"v":350},{"p":"C","e":"Cu","t":97,"v":600},{"p":"C","e":"Cu","t":98,"v":300},{"p":"C","e":"Cu","t":99,"v":750},{"p":"C","e":"Cu","t":100,"v":350},{"p":"C","e":"Cu","t":101,"v":650},{"p":"C","e":"Cu","t":102,"v":300},{"p":"C","e":"Cu","t":103,"v":700},{"p":"C","e":"Cu","t":104,"v":380},{"p":"C","e":"Cu","t":105,"v":600},{"p":"C","e":"Cu","t":106,"v":300},{"p":"C","e":"Cu","t":107,"v":800},{"p":"C","e":"Cu","t":108,"v":350},{"p":"C","e":"Cu","t":109,"v":650},{"p":"C","e":"Cu","t":110,"v":300},{"p":"C","e":"Cu","t":111,"v":700},{"p":"C","e":"Cu","t":112,"v":350},{"p":"C","e":"Cu","t":113,"v":600},{"p":"C","e":"Cu","t":114,"v":300},{"p":"C","e":"Cu","t":115,"v":650},{"p":"C","e":"Cu","t":116,"v":350},{"p":"C","e":"Cu","t":117,"v":700},{"p":"C","e":"Cu","t":118,"v":400},{"p":"C","e":"Cu","t":119,"v":600},
{"p":"C","e":"Ni","t":0,"v":350},{"p":"C","e":"Ni","t":1.7,"v":140},{"p":"C","e":"Ni","t":3.1,"v":350},{"p":"C","e":"Ni","t":4.4,"v":120},{"p":"C","e":"Ni","t":5.4,"v":300},{"p":"C","e":"Ni","t":6.4,"v":90},{"p":"C","e":"Ni","t":7.7,"v":400},{"p":"C","e":"Ni","t":8.7,"v":200},{"p":"C","e":"Ni","t":9.7,"v":100},{"p":"C","e":"Ni","t":11.1,"v":400},{"p":"C","e":"Ni","t":12.1,"v":150},{"p":"C","e":"Ni","t":13.1,"v":83},{"p":"C","e":"Ni","t":14.4,"v":600},{"p":"C","e":"Ni","t":15.7,"v":140},{"p":"C","e":"Ni","t":17.1,"v":280},{"p":"C","e":"Ni","t":18.7,"v":100},{"p":"C","e":"Ni","t":19.6,"v":300},{"p":"C","e":"Ni","t":20.4,"v":40},{"p":"C","e":"Ni","t":21.7,"v":400},{"p":"C","e":"Ni","t":22.5,"v":200},{"p":"C","e":"Ni","t":23.4,"v":170},{"p":"C","e":"Ni","t":24.5,"v":350},{"p":"C","e":"Ni","t":25.7,"v":83},{"p":"C","e":"Ni","t":27.1,"v":280},{"p":"C","e":"Ni","t":28.1,"v":150},{"p":"C","e":"Ni","t":29.1,"v":140},{"p":"C","e":"Ni","t":30.4,"v":400},{"p":"C","e":"Ni","t":31.4,"v":180},{"p":"C","e":"Ni","t":32.4,"v":220},{"p":"C","e":"Ni","t":33.7,"v":400},{"p":"C","e":"Ni","t":35.1,"v":140},{"p":"C","e":"Ni","t":36.3,"v":300},{"p":"C","e":"Ni","t":37.4,"v":40},{"p":"C","e":"Ni","t":38.2,"v":200},{"p":"C","e":"Ni","t":39.1,"v":260},{"p":"C","e":"Ni","t":40.1,"v":180},{"p":"C","e":"Ni","t":41.1,"v":140},{"p":"C","e":"Ni","t":42,"v":300},{"p":"C","e":"Ni","t":42.7,"v":83},{"p":"C","e":"Ni","t":43.7,"v":350},{"p":"C","e":"Ni","t":44.4,"v":400},{"p":"C","e":"Ni","t":44.7,"v":65000},{"p":"C","e":"Ni","t":46,"v":38000},{"p":"C","e":"Ni","t":47.1,"v":45000},{"p":"C","e":"Ni","t":48.4,"v":49000},{"p":"C","e":"Ni","t":49.4,"v":52000},{"p":"C","e":"Ni","t":50.4,"v":59000},{"p":"C","e":"Ni","t":51.5,"v":62000},{"p":"C","e":"Ni","t":52.6,"v":70000},{"p":"C","e":"Ni","t":53.7,"v":78000},{"p":"C","e":"Ni","t":55,"v":83000},{"p":"C","e":"Ni","t":56,"v":80000},{"p":"C","e":"Ni","t":57.1,"v":93000},{"p":"C","e":"Ni","t":58,"v":8.5e4},{"p":"C","e":"Ni","t":59,"v":1.02e5},{"p":"C","e":"Ni","t":60,"v":8.6e4},{"p":"C","e":"Ni","t":61,"v":1.0e5},{"p":"C","e":"Ni","t":62,"v":8.5e4},{"p":"C","e":"Ni","t":63,"v":1.03e5},{"p":"C","e":"Ni","t":64,"v":8.7e4},{"p":"C","e":"Ni","t":65,"v":1.0e5},{"p":"C","e":"Ni","t":66,"v":8.4e4},{"p":"C","e":"Ni","t":67,"v":1.02e5},{"p":"C","e":"Ni","t":68,"v":8.6e4},{"p":"C","e":"Ni","t":69,"v":1.0e5},{"p":"C","e":"Ni","t":70,"v":8.5e4},{"p":"C","e":"Ni","t":71,"v":1.03e5},{"p":"C","e":"Ni","t":72,"v":8.6e4},{"p":"C","e":"Ni","t":73,"v":1.0e5},{"p":"C","e":"Ni","t":74,"v":8.5e4},{"p":"C","e":"Ni","t":75,"v":1.02e5},{"p":"C","e":"Ni","t":76,"v":8.4e4},{"p":"C","e":"Ni","t":77,"v":1.0e5},{"p":"C","e":"Ni","t":78,"v":8.6e4},{"p":"C","e":"Ni","t":79,"v":1.03e5},{"p":"C","e":"Ni","t":80,"v":8.5e4},{"p":"C","e":"Ni","t":81,"v":1.0e5},{"p":"C","e":"Ni","t":82,"v":8.4e4},{"p":"C","e":"Ni","t":83,"v":1.02e5},{"p":"C","e":"Ni","t":84,"v":8.5e4},{"p":"C","e":"Ni","t":85,"v":1.0e5},{"p":"C","e":"Ni","t":86,"v":8.4e4},{"p":"C","e":"Ni","t":87,"v":1.02e5},{"p":"C","e":"Ni","t":88,"v":8.6e4},{"p":"C","e":"Ni","t":89,"v":1.0e5},{"p":"C","e":"Ni","t":90,"v":8.4e4},{"p":"C","e":"Ni","t":91,"v":1.02e5},{"p":"C","e":"Ni","t":92,"v":8.5e4},{"p":"C","e":"Ni","t":93,"v":1.0e5},{"p":"C","e":"Ni","t":94,"v":8.4e4},{"p":"C","e":"Ni","t":95,"v":1.03e5},{"p":"C","e":"Ni","t":96,"v":8.5e4},{"p":"C","e":"Ni","t":97,"v":1.0e5},{"p":"C","e":"Ni","t":98,"v":8.4e4},{"p":"C","e":"Ni","t":99,"v":1.02e5},{"p":"C","e":"Ni","t":100,"v":8.5e4},{"p":"C","e":"Ni","t":101,"v":1.0e5},{"p":"C","e":"Ni","t":102,"v":8.5e4},{"p":"C","e":"Ni","t":103,"v":1.03e5},{"p":"C","e":"Ni","t":104,"v":8.4e4},{"p":"C","e":"Ni","t":105,"v":1.0e5},{"p":"C","e":"Ni","t":106,"v":8.5e4},{"p":"C","e":"Ni","t":107,"v":1.02e5},{"p":"C","e":"Ni","t":108,"v":8.4e4},{"p":"C","e":"Ni","t":109,"v":1.0e5},{"p":"C","e":"Ni","t":110,"v":8.5e4},{"p":"C","e":"Ni","t":111,"v":1.02e5},{"p":"C","e":"Ni","t":112,"v":8.6e4},{"p":"C","e":"Ni","t":113,"v":9.0e4},{"p":"C","e":"Ni","t":113.4,"v":1000},{"p":"C","e":"Ni","t":114,"v":700},{"p":"C","e":"Ni","t":115,"v":500},{"p":"C","e":"Ni","t":116,"v":300},{"p":"C","e":"Ni","t":116.7,"v":80},{"p":"C","e":"Ni","t":117.3,"v":300},{"p":"C","e":"Ni","t":117.8,"v":70},{"p":"C","e":"Ni","t":118.3,"v":250},{"p":"C","e":"Ni","t":118.9,"v":80},
{"p":"D","e":"K","t":0,"v":1.3e5},{"p":"D","e":"K","t":2,"v":1.32e5},{"p":"D","e":"K","t":4,"v":1.28e5},{"p":"D","e":"K","t":6,"v":1.3e5},{"p":"D","e":"K","t":8,"v":1.27e5},{"p":"D","e":"K","t":10,"v":1.3e5},{"p":"D","e":"K","t":12,"v":1.26e5},{"p":"D","e":"K","t":14,"v":1.29e5},{"p":"D","e":"K","t":16,"v":1.25e5},{"p":"D","e":"K","t":18,"v":1.28e5},{"p":"D","e":"K","t":20,"v":1.25e5},{"p":"D","e":"K","t":22,"v":1.28e5},{"p":"D","e":"K","t":24,"v":1.24e5},{"p":"D","e":"K","t":26,"v":1.27e5},{"p":"D","e":"K","t":28,"v":1.23e5},{"p":"D","e":"K","t":30,"v":1.26e5},{"p":"D","e":"K","t":32,"v":1.23e5},{"p":"D","e":"K","t":34,"v":1.25e5},{"p":"D","e":"K","t":36,"v":1.22e5},{"p":"D","e":"K","t":38,"v":1.24e5},{"p":"D","e":"K","t":38.3,"v":1.22e5},{"p":"D","e":"K","t":38.6,"v":8.7e7},{"p":"D","e":"K","t":39.3,"v":1.15e8},{"p":"D","e":"K","t":40,"v":1.0e8},{"p":"D","e":"K","t":40.6,"v":1.1e8},{"p":"D","e":"K","t":41.2,"v":1.2e8},{"p":"D","e":"K","t":41.9,"v":1.45e8},{"p":"D","e":"K","t":42.9,"v":1.7e8},{"p":"D","e":"K","t":43.9,"v":2.1e8},{"p":"D","e":"K","t":44.6,"v":2.3e8},{"p":"D","e":"K","t":45.3,"v":2.5e8},{"p":"D","e":"K","t":46.3,"v":2.6e8},{"p":"D","e":"K","t":47.3,"v":2.9e8},{"p":"D","e":"K","t":48.3,"v":2.7e8},{"p":"D","e":"K","t":49.3,"v":3.1e8},{"p":"D","e":"K","t":50.3,"v":2.8e8},{"p":"D","e":"K","t":51,"v":3.6e8},{"p":"D","e":"K","t":52,"v":2.8e8},{"p":"D","e":"K","t":53,"v":3.7e8},{"p":"D","e":"K","t":54,"v":2.8e8},{"p":"D","e":"K","t":55,"v":3.6e8},{"p":"D","e":"K","t":56,"v":2.7e8},{"p":"D","e":"K","t":57,"v":3.7e8},{"p":"D","e":"K","t":58,"v":2.8e8},{"p":"D","e":"K","t":59,"v":3.6e8},{"p":"D","e":"K","t":60,"v":2.8e8},{"p":"D","e":"K","t":61,"v":3.7e8},{"p":"D","e":"K","t":62,"v":2.8e8},{"p":"D","e":"K","t":63,"v":3.6e8},{"p":"D","e":"K","t":64,"v":2.7e8},{"p":"D","e":"K","t":65,"v":3.7e8},{"p":"D","e":"K","t":66,"v":2.8e8},{"p":"D","e":"K","t":67,"v":4.2e8},{"p":"D","e":"K","t":68,"v":2.8e8},{"p":"D","e":"K","t":69,"v":3.6e8},{"p":"D","e":"K","t":70,"v":2.8e8},{"p":"D","e":"K","t":71,"v":3.7e8},{"p":"D","e":"K","t":72,"v":2.8e8},{"p":"D","e":"K","t":73,"v":3.6e8},{"p":"D","e":"K","t":74,"v":2.7e8},{"p":"D","e":"K","t":75,"v":3.7e8},{"p":"D","e":"K","t":76,"v":2.8e8},{"p":"D","e":"K","t":77,"v":3.6e8},{"p":"D","e":"K","t":78,"v":2.8e8},{"p":"D","e":"K","t":79,"v":3.7e8},{"p":"D","e":"K","t":80,"v":2.8e8},{"p":"D","e":"K","t":81,"v":3.6e8},{"p":"D","e":"K","t":82,"v":2.7e8},{"p":"D","e":"K","t":83,"v":3.7e8},{"p":"D","e":"K","t":84,"v":2.8e8},{"p":"D","e":"K","t":85,"v":3.6e8},{"p":"D","e":"K","t":86,"v":2.8e8},{"p":"D","e":"K","t":87,"v":3.7e8},{"p":"D","e":"K","t":88,"v":2.8e8},{"p":"D","e":"K","t":89,"v":3.6e8},{"p":"D","e":"K","t":90,"v":2.7e8},{"p":"D","e":"K","t":91,"v":3.7e8},{"p":"D","e":"K","t":92,"v":2.8e8},{"p":"D","e":"K","t":93,"v":3.6e8},{"p":"D","e":"K","t":94,"v":2.8e8},{"p":"D","e":"K","t":95,"v":3.7e8},{"p":"D","e":"K","t":96,"v":2.8e8},{"p":"D","e":"K","t":97,"v":3.6e8},{"p":"D","e":"K","t":98,"v":2.7e8},{"p":"D","e":"K","t":99,"v":3.7e8},{"p":"D","e":"K","t":100,"v":2.8e8},{"p":"D","e":"K","t":101,"v":3.6e8},{"p":"D","e":"K","t":102,"v":2.8e8},{"p":"D","e":"K","t":103,"v":3.7e8},{"p":"D","e":"K","t":104,"v":2.8e8},{"p":"D","e":"K","t":105,"v":3.6e8},{"p":"D","e":"K","t":106,"v":2.7e8},{"p":"D","e":"K","t":107,"v":3.7e8},{"p":"D","e":"K","t":108,"v":2.8e8},{"p":"D","e":"K","t":109,"v":3.6e8},{"p":"D","e":"K","t":110,"v":2.8e8},{"p":"D","e":"K","t":111,"v":3.7e8},{"p":"D","e":"K","t":112,"v":2.8e8},{"p":"D","e":"K","t":113,"v":3.6e8},{"p":"D","e":"K","t":114,"v":2.8e8},{"p":"D","e":"K","t":115,"v":3.6e8},{"p":"D","e":"K","t":116,"v":2.8e8},{"p":"D","e":"K","t":117,"v":3.4e8},{"p":"D","e":"K","t":117.6,"v":3.0e8},{"p":"D","e":"K","t":117.9,"v":6.1e7},{"p":"D","e":"K","t":118.6,"v":4.5e7},{"p":"D","e":"K","t":119.3,"v":2.1e7},
{"p":"D","e":"Cu","t":0,"v":700},{"p":"D","e":"Cu","t":1,"v":500},{"p":"D","e":"Cu","t":2,"v":900},{"p":"D","e":"Cu","t":3,"v":600},{"p":"D","e":"Cu","t":4,"v":800},{"p":"D","e":"Cu","t":5,"v":500},{"p":"D","e":"Cu","t":6,"v":750},{"p":"D","e":"Cu","t":7,"v":550},{"p":"D","e":"Cu","t":8,"v":900},{"p":"D","e":"Cu","t":9,"v":500},{"p":"D","e":"Cu","t":10,"v":800},{"p":"D","e":"Cu","t":11,"v":550},{"p":"D","e":"Cu","t":12,"v":700},{"p":"D","e":"Cu","t":13,"v":500},{"p":"D","e":"Cu","t":14,"v":850},{"p":"D","e":"Cu","t":15,"v":600},{"p":"D","e":"Cu","t":16,"v":750},{"p":"D","e":"Cu","t":17,"v":500},{"p":"D","e":"Cu","t":18,"v":900},{"p":"D","e":"Cu","t":19,"v":550},{"p":"D","e":"Cu","t":20,"v":800},{"p":"D","e":"Cu","t":21,"v":500},{"p":"D","e":"Cu","t":22,"v":750},{"p":"D","e":"Cu","t":23,"v":600},{"p":"D","e":"Cu","t":24,"v":900},{"p":"D","e":"Cu","t":25,"v":550},{"p":"D","e":"Cu","t":26,"v":800},{"p":"D","e":"Cu","t":27,"v":500},{"p":"D","e":"Cu","t":28,"v":700},{"p":"D","e":"Cu","t":29,"v":600},{"p":"D","e":"Cu","t":30,"v":1000},{"p":"D","e":"Cu","t":31,"v":550},{"p":"D","e":"Cu","t":32,"v":750},{"p":"D","e":"Cu","t":33,"v":500},{"p":"D","e":"Cu","t":34,"v":800},{"p":"D","e":"Cu","t":35,"v":600},{"p":"D","e":"Cu","t":36,"v":700},{"p":"D","e":"Cu","t":37,"v":500},{"p":"D","e":"Cu","t":38,"v":650},{"p":"D","e":"Cu","t":38.6,"v":600},{"p":"D","e":"Cu","t":39.6,"v":20000},{"p":"D","e":"Cu","t":40.2,"v":900},{"p":"D","e":"Cu","t":40.8,"v":4400},{"p":"D","e":"Cu","t":41.5,"v":13000},{"p":"D","e":"Cu","t":42.2,"v":1500},{"p":"D","e":"Cu","t":43,"v":45000},{"p":"D","e":"Cu","t":43.9,"v":500},{"p":"D","e":"Cu","t":44.4,"v":65000},{"p":"D","e":"Cu","t":45,"v":2000},{"p":"D","e":"Cu","t":45.6,"v":350},{"p":"D","e":"Cu","t":46.4,"v":45000},{"p":"D","e":"Cu","t":47,"v":720},{"p":"D","e":"Cu","t":47.6,"v":80000},{"p":"D","e":"Cu","t":48.3,"v":1000},{"p":"D","e":"Cu","t":48.6,"v":1500},{"p":"D","e":"Cu","t":49.3,"v":30000},{"p":"D","e":"Cu","t":50,"v":4000},{"p":"D","e":"Cu","t":50.6,"v":1800},{"p":"D","e":"Cu","t":51.3,"v":15000},{"p":"D","e":"Cu","t":52.3,"v":15000},{"p":"D","e":"Cu","t":53,"v":5000},{"p":"D","e":"Cu","t":54,"v":110000},{"p":"D","e":"Cu","t":55,"v":100000},{"p":"D","e":"Cu","t":56,"v":110000},{"p":"D","e":"Cu","t":57.3,"v":93000},{"p":"D","e":"Cu","t":58,"v":30000},{"p":"D","e":"Cu","t":58.6,"v":22000},{"p":"D","e":"Cu","t":59.5,"v":40000},{"p":"D","e":"Cu","t":60.6,"v":38000},{"p":"D","e":"Cu","t":61.5,"v":26000},{"p":"D","e":"Cu","t":62.6,"v":22000},{"p":"D","e":"Cu","t":63.5,"v":60000},{"p":"D","e":"Cu","t":64.6,"v":300000},{"p":"D","e":"Cu","t":65.6,"v":130000},{"p":"D","e":"Cu","t":66.5,"v":80000},{"p":"D","e":"Cu","t":67.3,"v":65000},{"p":"D","e":"Cu","t":68.3,"v":30000},{"p":"D","e":"Cu","t":69.3,"v":15000},{"p":"D","e":"Cu","t":70,"v":25000},{"p":"D","e":"Cu","t":70.6,"v":22000},{"p":"D","e":"Cu","t":71.6,"v":12000},{"p":"D","e":"Cu","t":72.6,"v":15000},{"p":"D","e":"Cu","t":73.6,"v":12000},{"p":"D","e":"Cu","t":74.6,"v":8900},{"p":"D","e":"Cu","t":75.5,"v":6000},{"p":"D","e":"Cu","t":76.3,"v":4800},{"p":"D","e":"Cu","t":77,"v":12000},{"p":"D","e":"Cu","t":77.9,"v":45000},{"p":"D","e":"Cu","t":79,"v":70000},{"p":"D","e":"Cu","t":79.9,"v":93000},{"p":"D","e":"Cu","t":80.8,"v":100000},{"p":"D","e":"Cu","t":81.6,"v":130000},{"p":"D","e":"Cu","t":82.5,"v":160000},{"p":"D","e":"Cu","t":83.3,"v":250000},{"p":"D","e":"Cu","t":84,"v":160000},{"p":"D","e":"Cu","t":84.6,"v":130000},{"p":"D","e":"Cu","t":85.6,"v":100000},{"p":"D","e":"Cu","t":86.6,"v":93000},{"p":"D","e":"Cu","t":87.6,"v":60000},{"p":"D","e":"Cu","t":88.6,"v":45000},{"p":"D","e":"Cu","t":89.6,"v":42000},{"p":"D","e":"Cu","t":90.6,"v":38000},{"p":"D","e":"Cu","t":92,"v":30000},{"p":"D","e":"Cu","t":93.3,"v":26000},{"p":"D","e":"Cu","t":94.6,"v":20000},{"p":"D","e":"Cu","t":95.9,"v":18000},{"p":"D","e":"Cu","t":97.3,"v":16000},{"p":"D","e":"Cu","t":98.6,"v":15000},{"p":"D","e":"Cu","t":100,"v":13000},{"p":"D","e":"Cu","t":101.3,"v":13000},{"p":"D","e":"Cu","t":102.6,"v":11000},{"p":"D","e":"Cu","t":103.9,"v":10700},{"p":"D","e":"Cu","t":105,"v":15000},{"p":"D","e":"Cu","t":105.9,"v":26000},{"p":"D","e":"Cu","t":107,"v":20000},{"p":"D","e":"Cu","t":107.9,"v":15000},{"p":"D","e":"Cu","t":109,"v":12000},{"p":"D","e":"Cu","t":109.9,"v":10700},{"p":"D","e":"Cu","t":111,"v":9000},{"p":"D","e":"Cu","t":111.9,"v":7400},{"p":"D","e":"Cu","t":113,"v":7000},{"p":"D","e":"Cu","t":113.9,"v":6300},{"p":"D","e":"Cu","t":115,"v":4500},{"p":"D","e":"Cu","t":115.9,"v":3600},{"p":"D","e":"Cu","t":117,"v":2500},{"p":"D","e":"Cu","t":117.6,"v":1500},{"p":"D","e":"Cu","t":118.3,"v":1000},{"p":"D","e":"Cu","t":118.9,"v":720},
{"p":"D","e":"Ni","t":0.3,"v":140},{"p":"D","e":"Ni","t":1.3,"v":350},{"p":"D","e":"Ni","t":2,"v":200},{"p":"D","e":"Ni","t":2.6,"v":140},{"p":"D","e":"Ni","t":3.3,"v":300},{"p":"D","e":"Ni","t":3.9,"v":350},{"p":"D","e":"Ni","t":4.6,"v":160},{"p":"D","e":"Ni","t":5.3,"v":160},{"p":"D","e":"Ni","t":6.3,"v":300},{"p":"D","e":"Ni","t":7.3,"v":400},{"p":"D","e":"Ni","t":8,"v":200},{"p":"D","e":"Ni","t":8.6,"v":140},{"p":"D","e":"Ni","t":9.6,"v":260},{"p":"D","e":"Ni","t":10.6,"v":300},{"p":"D","e":"Ni","t":11.5,"v":150},{"p":"D","e":"Ni","t":12.3,"v":83},{"p":"D","e":"Ni","t":13,"v":250},{"p":"D","e":"Ni","t":13.6,"v":350},{"p":"D","e":"Ni","t":14.8,"v":180},{"p":"D","e":"Ni","t":15.9,"v":140},{"p":"D","e":"Ni","t":16.6,"v":300},{"p":"D","e":"Ni","t":17.3,"v":500},{"p":"D","e":"Ni","t":18.3,"v":200},{"p":"D","e":"Ni","t":19.3,"v":190},{"p":"D","e":"Ni","t":20.3,"v":350},{"p":"D","e":"Ni","t":21.3,"v":400},{"p":"D","e":"Ni","t":22.3,"v":200},{"p":"D","e":"Ni","t":23.3,"v":140},{"p":"D","e":"Ni","t":24.1,"v":300},{"p":"D","e":"Ni","t":24.9,"v":350},{"p":"D","e":"Ni","t":25.9,"v":40},{"p":"D","e":"Ni","t":26.6,"v":200},{"p":"D","e":"Ni","t":27.3,"v":320},{"p":"D","e":"Ni","t":28.3,"v":180},{"p":"D","e":"Ni","t":29.3,"v":160},{"p":"D","e":"Ni","t":30,"v":300},{"p":"D","e":"Ni","t":30.6,"v":500},{"p":"D","e":"Ni","t":31.6,"v":250},{"p":"D","e":"Ni","t":32.6,"v":160},{"p":"D","e":"Ni","t":33.3,"v":300},{"p":"D","e":"Ni","t":33.9,"v":350},{"p":"D","e":"Ni","t":34.6,"v":200},{"p":"D","e":"Ni","t":35.3,"v":190},{"p":"D","e":"Ni","t":36.1,"v":150},{"p":"D","e":"Ni","t":36.9,"v":110},{"p":"D","e":"Ni","t":37.6,"v":200},{"p":"D","e":"Ni","t":38.3,"v":230},{"p":"D","e":"Ni","t":38.7,"v":93000},{"p":"D","e":"Ni","t":40,"v":54000},{"p":"D","e":"Ni","t":40.6,"v":48000},{"p":"D","e":"Ni","t":41.3,"v":45000},{"p":"D","e":"Ni","t":42.5,"v":55000},{"p":"D","e":"Ni","t":43.9,"v":65000},{"p":"D","e":"Ni","t":45.5,"v":78000},{"p":"D","e":"Ni","t":47.3,"v":93000},{"p":"D","e":"Ni","t":49,"v":105000},{"p":"D","e":"Ni","t":50.6,"v":120000},{"p":"D","e":"Ni","t":52,"v":1.35e5},{"p":"D","e":"Ni","t":53,"v":1.6e5},{"p":"D","e":"Ni","t":54,"v":1.3e5},{"p":"D","e":"Ni","t":55,"v":1.6e5},{"p":"D","e":"Ni","t":56,"v":1.3e5},{"p":"D","e":"Ni","t":57,"v":1.55e5},{"p":"D","e":"Ni","t":58,"v":1.3e5},{"p":"D","e":"Ni","t":59,"v":1.6e5},{"p":"D","e":"Ni","t":60,"v":1.35e5},{"p":"D","e":"Ni","t":61,"v":1.6e5},{"p":"D","e":"Ni","t":62,"v":1.3e5},{"p":"D","e":"Ni","t":63,"v":1.65e5},{"p":"D","e":"Ni","t":64,"v":1.3e5},{"p":"D","e":"Ni","t":65,"v":1.6e5},{"p":"D","e":"Ni","t":66,"v":1.3e5},{"p":"D","e":"Ni","t":67,"v":1.55e5},{"p":"D","e":"Ni","t":68,"v":1.3e5},{"p":"D","e":"Ni","t":69,"v":1.6e5},{"p":"D","e":"Ni","t":70,"v":1.3e5},{"p":"D","e":"Ni","t":71,"v":1.6e5},{"p":"D","e":"Ni","t":72,"v":1.35e5},{"p":"D","e":"Ni","t":73,"v":1.6e5},{"p":"D","e":"Ni","t":74,"v":1.3e5},{"p":"D","e":"Ni","t":75,"v":1.6e5},{"p":"D","e":"Ni","t":76,"v":1.3e5},{"p":"D","e":"Ni","t":77,"v":1.55e5},{"p":"D","e":"Ni","t":78,"v":1.3e5},{"p":"D","e":"Ni","t":79,"v":1.6e5},{"p":"D","e":"Ni","t":80,"v":1.35e5},{"p":"D","e":"Ni","t":81,"v":1.6e5},{"p":"D","e":"Ni","t":82,"v":1.3e5},{"p":"D","e":"Ni","t":83,"v":1.6e5},{"p":"D","e":"Ni","t":84,"v":1.3e5},{"p":"D","e":"Ni","t":85,"v":1.55e5},{"p":"D","e":"Ni","t":86,"v":1.3e5},{"p":"D","e":"Ni","t":87,"v":1.6e5},{"p":"D","e":"Ni","t":88,"v":1.3e5},{"p":"D","e":"Ni","t":89,"v":1.6e5},{"p":"D","e":"Ni","t":90,"v":1.35e5},{"p":"D","e":"Ni","t":91,"v":1.6e5},{"p":"D","e":"Ni","t":92,"v":1.3e5},{"p":"D","e":"Ni","t":93,"v":1.6e5},{"p":"D","e":"Ni","t":94,"v":1.3e5},{"p":"D","e":"Ni","t":95,"v":1.55e5},{"p":"D","e":"Ni","t":96,"v":1.3e5},{"p":"D","e":"Ni","t":97,"v":1.6e5},{"p":"D","e":"Ni","t":98,"v":1.3e5},{"p":"D","e":"Ni","t":99,"v":1.6e5},{"p":"D","e":"Ni","t":100,"v":1.35e5},{"p":"D","e":"Ni","t":101,"v":1.6e5},{"p":"D","e":"Ni","t":102,"v":1.3e5},{"p":"D","e":"Ni","t":103,"v":1.6e5},{"p":"D","e":"Ni","t":104,"v":1.3e5},{"p":"D","e":"Ni","t":105,"v":1.55e5},{"p":"D","e":"Ni","t":106,"v":1.3e5},{"p":"D","e":"Ni","t":107,"v":1.6e5},{"p":"D","e":"Ni","t":108,"v":1.3e5},{"p":"D","e":"Ni","t":109,"v":1.6e5},{"p":"D","e":"Ni","t":110,"v":1.35e5},{"p":"D","e":"Ni","t":111,"v":1.6e5},{"p":"D","e":"Ni","t":112,"v":1.3e5},{"p":"D","e":"Ni","t":113,"v":2.4e5},{"p":"D","e":"Ni","t":114,"v":1.3e5},{"p":"D","e":"Ni","t":115,"v":1.6e5},{"p":"D","e":"Ni","t":116,"v":1.35e5},{"p":"D","e":"Ni","t":117,"v":1.5e5},{"p":"D","e":"Ni","t":117.6,"v":1.3e5},{"p":"D","e":"Ni","t":118.5,"v":14000},{"p":"D","e":"Ni","t":119.6,"v":7400}
],
"ann": [
{"p":"A","k":"ann","e":"K","txt":"K","t":69.3,"v":7.6e8},
{"p":"A","k":"ann","e":"Ni","txt":"Ni","t":69.9,"v":1.55e5},
{"p":"A","k":"ann","e":"Cu","txt":"Cu","t":71,"v":2570},
{"p":"A","k":"ann","e":"x","txt":"laser off","t":116,"v":4.1e7},
{"p":"A","k":"ann","e":"x","txt":"laser on","t":23.2,"v":4.3e8},
{"p":"A","k":"ann","e":"x","txt":"background","t":17.4,"v":5.6e6},
{"p":"B","k":"ann","e":"x","txt":"inclusion?","t":77.9,"v":6.9e6},
{"p":"C","k":"ann","e":"x","txt":"inclusion?","t":68.4,"v":3.4e6},
{"p":"D","k":"ann","e":"x","txt":"sample heterogeneity?","t":76.8,"v":19.5},
{"p":"A","k":"box","e":"x","txt":"A","t":2.7,"v":3.76e8},
{"p":"B","k":"box","e":"x","txt":"B","t":2.75,"v":3.76e8},
{"p":"C","k":"box","e":"x","txt":"C","t":2.65,"v":3.76e8},
{"p":"D","k":"box","e":"x","txt":"D","t":2.65,"v":3.76e8}
],
"seg": [
{"p":"A","v":2.95e7,"t":105,"v2":1.28e8,"t2":98.7},
{"p":"A","v":2.45e8,"t":27.7,"v2":2.15e5,"t2":40.1},
{"p":"A","v":2.9e6,"t":12,"v2":2.5e5,"t2":12.45},
{"p":"B","v":4.2e6,"t":64.9,"v2":4.4e5,"t2":63.6},
{"p":"C","v":9.1e5,"t":67.8,"v2":4.9e4,"t2":56.8},
{"p":"D","v":83,"t":38.6,"v2":83,"t2":118.6},
{"p":"D","v":83,"t":118.6,"v2":162,"t2":118.6},
{"p":"D","v":83,"t":38.6,"v2":162,"t2":38.6}
],
"head": [
{"p":"A","v":1.11e8,"t":99.3,"a":220},
{"p":"A","v":2.6e5,"t":39.75,"a":64},
{"p":"A","v":3.2e5,"t":12.43,"a":87},
{"p":"D","v":130,"t":118.6,"a":270},
{"p":"D","v":130,"t":38.6,"a":270}
],
"box": [
{"p":"A","v":1e9,"v2":1.4e8,"t":0,"t2":5.4},
{"p":"B","v":1e9,"v2":1.4e8,"t":0,"t2":5.5},
{"p":"C","v":1e9,"v2":1.4e8,"t":0,"t2":5.3},
{"p":"D","v":1e9,"v2":1.4e8,"t":0,"t2":5.3},
{"p":"B","v":4.4e5,"v2":58,"t":59.6,"t2":67.9},
{"p":"C","v":4.9e4,"v2":100,"t":50,"t2":62.8}
]
},
"hconcat": [
{"vconcat": [
{"width": 384, "height": 600,
 "encoding": {
  "x": {"field": "v", "type": "quantitative", "scale": {"type": "log", "domain": [1, 1000000000], "reverse": true, "nice": false}, "axis": {"values": [1,10,100,1000,10000,100000,1000000,10000000,100000000,1000000000], "labelExpr": "datum.value >= 1e9 ? '1E+09' : format(datum.value, 'd')", "labelAngle": -90, "labelPadding": 11, "labelOverlap": false, "labelFlush": false, "labelBound": false, "title": "counts/second", "titleAngle": 180, "titleBaseline": "bottom", "titlePadding": 11, "titleX": 204}},
  "y": {"field": "t", "type": "quantitative", "scale": {"domain": [0, 120], "nice": false, "zero": false}, "axis": {"orient": "right", "values": [0,20,40,60,80,100,120], "labelAngle": -90, "labelAlign": "center", "labelBaseline": "top", "labelPadding": 18, "labelOverlap": false, "labelFlush": false, "title": "time (s)", "titleAngle": -90, "titleBaseline": "top", "titlePadding": 3}}
 },
 "layer": [
  {"data": {"name": "ts"}, "transform": [{"filter": "datum.p == 'B'"}], "mark": {"type": "line", "strokeWidth": 5, "strokeJoin": "round", "strokeCap": "round"}, "encoding": {"color": {"field": "e", "type": "nominal", "scale": {"domain": ["K","Ni","Cu","x"], "range": ["#C0504D","#9BBB59","#4F81BD","#000000"]}, "legend": null}, "order": {"field": "t", "type": "quantitative"}}},
  {"data": {"name": "box"}, "transform": [{"filter": "datum.p == 'B'"}], "mark": {"type": "rect", "fillOpacity": 0, "stroke": "#000000", "strokeWidth": 1.5}, "encoding": {"x2": {"field": "v2"}, "y2": {"field": "t2"}}},
  {"data": {"name": "seg"}, "transform": [{"filter": "datum.p == 'B'"}], "mark": {"type": "rule", "color": "#000000", "strokeWidth": 1.5}, "encoding": {"x2": {"field": "v2"}, "y2": {"field": "t2"}}},
  {"data": {"name": "ann"}, "transform": [{"filter": "datum.p == 'B' && datum.k == 'ann'"}], "mark": {"type": "text", "angle": 270, "fontSize": 30, "align": "center", "baseline": "middle"}, "encoding": {"text": {"field": "txt"}, "color": {"field": "e", "type": "nominal", "scale": {"domain": ["K","Ni","Cu","x"], "range": ["#C0504D","#9BBB59","#4F81BD","#000000"]}, "legend": null}}},
  {"data": {"name": "ann"}, "transform": [{"filter": "datum.p == 'B' && datum.k == 'box'"}], "mark": {"type": "text", "angle": 270, "fontSize": 28, "align": "center", "baseline": "middle", "color": "#000000"}, "encoding": {"text": {"field": "txt"}}}
 ]},
{"width": 384, "height": 600,
 "encoding": {
  "x": {"field": "v", "type": "quantitative", "scale": {"type": "log", "domain": [1, 1000000000], "reverse": true, "nice": false}, "axis": {"values": [1,10,100,1000,10000,100000,1000000,10000000,100000000,1000000000], "labelExpr": "datum.value >= 1e9 ? '1E+09' : format(datum.value, 'd')", "labelAngle": -90, "labelPadding": 11, "labelOverlap": false, "labelFlush": false, "labelBound": false, "title": "counts/second", "titleAngle": 180, "titleBaseline": "bottom", "titlePadding": 8, "titleX": 207}},
  "y": {"field": "t", "type": "quantitative", "scale": {"domain": [0, 120], "nice": false, "zero": false}, "axis": {"orient": "right", "values": [0,20,40,60,80,100,120], "labelAngle": -90, "labelAlign": "center", "labelBaseline": "top", "labelPadding": 18, "labelOverlap": false, "labelFlush": false, "title": "time (s)", "titleAngle": -90, "titleBaseline": "top", "titlePadding": 3}}
 },
 "layer": [
  {"data": {"name": "ts"}, "transform": [{"filter": "datum.p == 'A'"}], "mark": {"type": "line", "strokeWidth": 5, "strokeJoin": "round", "strokeCap": "round"}, "encoding": {"color": {"field": "e", "type": "nominal", "scale": {"domain": ["K","Ni","Cu","x"], "range": ["#C0504D","#9BBB59","#4F81BD","#000000"]}, "legend": null}, "order": {"field": "t", "type": "quantitative"}}},
  {"data": {"name": "box"}, "transform": [{"filter": "datum.p == 'A'"}], "mark": {"type": "rect", "fillOpacity": 0, "stroke": "#000000", "strokeWidth": 1.5}, "encoding": {"x2": {"field": "v2"}, "y2": {"field": "t2"}}},
  {"data": {"name": "seg"}, "transform": [{"filter": "datum.p == 'A'"}], "mark": {"type": "rule", "color": "#000000", "strokeWidth": 1.5}, "encoding": {"x2": {"field": "v2"}, "y2": {"field": "t2"}}},
  {"data": {"name": "head"}, "transform": [{"filter": "datum.p == 'A'"}], "mark": {"type": "point", "shape": "triangle-up", "filled": true, "color": "#000000", "size": 70, "opacity": 1}, "encoding": {"angle": {"field": "a", "type": "quantitative", "scale": null}}},
  {"data": {"name": "ann"}, "transform": [{"filter": "datum.p == 'A' && datum.k == 'ann'"}], "mark": {"type": "text", "angle": 270, "fontSize": 30, "align": "center", "baseline": "middle"}, "encoding": {"text": {"field": "txt"}, "color": {"field": "e", "type": "nominal", "scale": {"domain": ["K","Ni","Cu","x"], "range": ["#C0504D","#9BBB59","#4F81BD","#000000"]}, "legend": null}}},
  {"data": {"name": "ann"}, "transform": [{"filter": "datum.p == 'A' && datum.k == 'box'"}], "mark": {"type": "text", "angle": 270, "fontSize": 28, "align": "center", "baseline": "middle", "color": "#000000"}, "encoding": {"text": {"field": "txt"}}}
 ]}
], "spacing": 247, "bounds": "flush"},
{"vconcat": [
{"width": 1, "height": 1, "data": {"values": []}, "mark": {"type": "rect", "opacity": 0}, "encoding": {}},
{"vconcat": [
{"width": 384, "height": 600,
 "encoding": {
  "x": {"field": "v", "type": "quantitative", "scale": {"type": "log", "domain": [1, 1000000000], "reverse": true, "nice": false}, "axis": {"values": [1,10,100,1000,10000,100000,1000000,10000000,100000000,1000000000], "labelExpr": "datum.value >= 1e9 ? '1E+09' : format(datum.value, 'd')", "labelAngle": -90, "labelPadding": 11, "labelOverlap": false, "labelFlush": false, "labelBound": false, "title": "counts/second", "titleAngle": 180, "titleBaseline": "bottom", "titlePadding": 3, "titleX": 201}},
  "y": {"field": "t", "type": "quantitative", "scale": {"domain": [0, 120], "nice": false, "zero": false}, "axis": {"orient": "right", "values": [0,20,40,60,80,100,120], "labelAngle": -90, "labelAlign": "center", "labelBaseline": "top", "labelPadding": 18, "labelOverlap": false, "labelFlush": false, "title": "time (s)", "titleAngle": -90, "titleBaseline": "top", "titlePadding": 3}}
 },
 "layer": [
  {"data": {"name": "ts"}, "transform": [{"filter": "datum.p == 'D'"}], "mark": {"type": "line", "strokeWidth": 5, "strokeJoin": "round", "strokeCap": "round"}, "encoding": {"color": {"field": "e", "type": "nominal", "scale": {"domain": ["K","Ni","Cu","x"], "range": ["#C0504D","#9BBB59","#4F81BD","#000000"]}, "legend": null}, "order": {"field": "t", "type": "quantitative"}}},
  {"data": {"name": "box"}, "transform": [{"filter": "datum.p == 'D'"}], "mark": {"type": "rect", "fillOpacity": 0, "stroke": "#000000", "strokeWidth": 1.5}, "encoding": {"x2": {"field": "v2"}, "y2": {"field": "t2"}}},
  {"data": {"name": "seg"}, "transform": [{"filter": "datum.p == 'D'"}], "mark": {"type": "rule", "color": "#000000", "strokeWidth": 2}, "encoding": {"x2": {"field": "v2"}, "y2": {"field": "t2"}}},
  {"data": {"name": "head"}, "transform": [{"filter": "datum.p == 'D'"}], "mark": {"type": "point", "shape": "triangle-up", "filled": true, "color": "#000000", "size": 70, "opacity": 1}, "encoding": {"angle": {"field": "a", "type": "quantitative", "scale": null}}},
  {"data": {"name": "ann"}, "transform": [{"filter": "datum.p == 'D' && datum.k == 'ann'"}], "mark": {"type": "text", "angle": 270, "fontSize": 30, "align": "center", "baseline": "middle"}, "encoding": {"text": {"field": "txt"}, "color": {"field": "e", "type": "nominal", "scale": {"domain": ["K","Ni","Cu","x"], "range": ["#C0504D","#9BBB59","#4F81BD","#000000"]}, "legend": null}}},
  {"data": {"name": "ann"}, "transform": [{"filter": "datum.p == 'D' && datum.k == 'box'"}], "mark": {"type": "text", "angle": 270, "fontSize": 28, "align": "center", "baseline": "middle", "color": "#000000"}, "encoding": {"text": {"field": "txt"}}}
 ]},
{"width": 384, "height": 600,
 "encoding": {
  "x": {"field": "v", "type": "quantitative", "scale": {"type": "log", "domain": [1, 1000000000], "reverse": true, "nice": false}, "axis": {"values": [1,10,100,1000,10000,100000,1000000,10000000,100000000,1000000000], "labelExpr": "datum.value >= 1e9 ? '1E+09' : format(datum.value, 'd')", "labelAngle": -90, "labelPadding": 11, "labelOverlap": false, "labelFlush": false, "labelBound": false, "title": "counts/second", "titleAngle": 180, "titleBaseline": "bottom", "titlePadding": -5, "titleX": 204}},
  "y": {"field": "t", "type": "quantitative", "scale": {"domain": [0, 120], "nice": false, "zero": false}, "axis": {"orient": "right", "values": [0,20,40,60,80,100,120], "labelAngle": -90, "labelAlign": "center", "labelBaseline": "top", "labelPadding": 18, "labelOverlap": false, "labelFlush": false, "title": "time (s)", "titleAngle": -90, "titleBaseline": "top", "titlePadding": 3}}
 },
 "layer": [
  {"data": {"name": "ts"}, "transform": [{"filter": "datum.p == 'C'"}], "mark": {"type": "line", "strokeWidth": 5, "strokeJoin": "round", "strokeCap": "round"}, "encoding": {"color": {"field": "e", "type": "nominal", "scale": {"domain": ["K","Ni","Cu","x"], "range": ["#C0504D","#9BBB59","#4F81BD","#000000"]}, "legend": null}, "order": {"field": "t", "type": "quantitative"}}},
  {"data": {"name": "box"}, "transform": [{"filter": "datum.p == 'C'"}], "mark": {"type": "rect", "fillOpacity": 0, "stroke": "#000000", "strokeWidth": 1.5}, "encoding": {"x2": {"field": "v2"}, "y2": {"field": "t2"}}},
  {"data": {"name": "seg"}, "transform": [{"filter": "datum.p == 'C'"}], "mark": {"type": "rule", "color": "#000000", "strokeWidth": 1.5}, "encoding": {"x2": {"field": "v2"}, "y2": {"field": "t2"}}},
  {"data": {"name": "ann"}, "transform": [{"filter": "datum.p == 'C' && datum.k == 'ann'"}], "mark": {"type": "text", "angle": 270, "fontSize": 30, "align": "center", "baseline": "middle"}, "encoding": {"text": {"field": "txt"}, "color": {"field": "e", "type": "nominal", "scale": {"domain": ["K","Ni","Cu","x"], "range": ["#C0504D","#9BBB59","#4F81BD","#000000"]}, "legend": null}}},
  {"data": {"name": "ann"}, "transform": [{"filter": "datum.p == 'C' && datum.k == 'box'"}], "mark": {"type": "text", "angle": 270, "fontSize": 28, "align": "center", "baseline": "middle", "color": "#000000"}, "encoding": {"text": {"field": "txt"}}}
 ]}
], "spacing": 249, "bounds": "flush"}
], "spacing": 9, "bounds": "flush"}
],
"spacing": 17
}
